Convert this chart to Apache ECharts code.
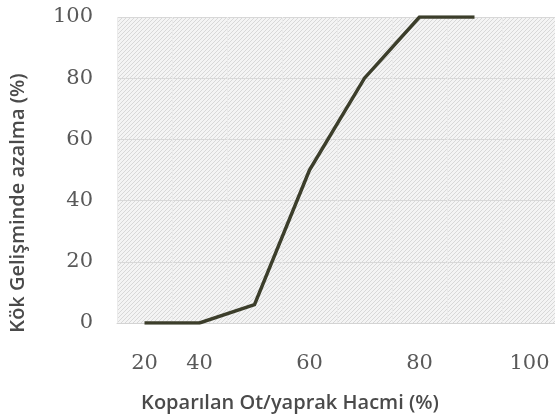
<!DOCTYPE html>
<html><head><meta charset="utf-8">
<script src="https://cdn.jsdelivr.net/npm/echarts@6/dist/echarts.min.js"></script>
<style>html,body{margin:0;padding:0;background:#fff}#c{width:555px;height:419px}</style>
</head><body><div id="c"></div>
<script>
var categories = ['20','40','50','60','70','80','90','100'];
var tickLabels = ['20','40','','60','','80','','100'];
var values = [0, 0, 6, 50, 80, 100, 100, null];

function makePattern(){
  var c = document.createElement('canvas');
  c.width = 4; c.height = 4;
  var g = c.getContext('2d');
  g.fillStyle = '#f4f4f4'; g.fillRect(0,0,4,4);
  g.fillStyle = '#d8d8d8';
  for (var i=0;i<4;i++){ g.fillRect(i, 3-i, 1, 1); }
  return c;
}
var chart = echarts.init(document.getElementById('c'), null, {renderer:'canvas'});
chart.setOption({
  animation:false,
  grid:{left:117, top:17, width:440, height:306, show:true, borderWidth:0,
        outerBoundsMode:'none', containLabel:false,
        backgroundColor:{image:makePattern(), repeat:'repeat'}},
  xAxis:{type:'category', data:categories, boundaryGap:true,
    name:'Koparılan Ot/yaprak Hacmi (%)', nameLocation:'middle', nameGap:70,
    nameTextStyle:{fontFamily:'Open Sans', fontSize:20, fontWeight:600, color:'#4a4a4a', padding:[0,94,0,0]},
    axisLine:{show:true, lineStyle:{color:'#d4d4d4', width:1}},
    axisTick:{show:false},
    axisLabel:{interval:0, margin:30, fontFamily:'DejaVu Serif', fontSize:21, color:'#595959',
      formatter:function(v, i){ return tickLabels[i]; }},
    splitLine:{show:true, interval:0, lineStyle:{color:'#ebebeb', width:1}}
  },
  yAxis:{type:'value', min:0, max:100, interval:20,
    name:'Kök Gelişminde azalma (%)', nameLocation:'middle', nameGap:89,
    nameTextStyle:{fontFamily:'Open Sans', fontSize:20, fontWeight:600, color:'#4a4a4a', padding:[0,66,0,0]},
    axisLine:{show:false}, axisTick:{show:false},
    axisLabel:{margin:24, fontFamily:'DejaVu Serif', fontSize:21, color:'#595959'},
    splitLine:{show:true, lineStyle:{color:'#d8d8d8', width:1}}
  },
  series:[{type:'line', data:values, symbol:'none', connectNulls:false,
    lineStyle:{color:'#3c3e2b', width:3.5, cap:'butt', join:'miter'}}]
});
</script></body></html>
